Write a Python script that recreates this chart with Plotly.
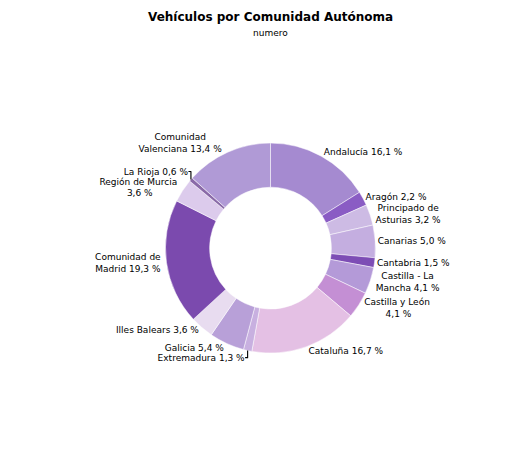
import plotly.graph_objects as go

regions = ["Andalucía", "Aragón", "Principado de<br>Asturias", "Canarias", "Cantabria",
           "Castilla - La<br>Mancha", "Castilla y León<br>", "Cataluña", "Extremadura",
           "Galicia", "Illes Balears", "Comunidad de<br>Madrid", "Región de Murcia<br>",
           "La Rioja", "Comunidad<br>Valenciana"]
shares = [16.1, 2.2, 3.2, 5.0, 1.5, 4.1, 4.1, 16.7, 1.3, 5.4, 3.6, 19.3, 3.6, 0.6, 13.4]
colors = ["#a58ad0", "#8a5cc4", "#cdbbe4", "#c4aee0", "#7d4db5", "#b49ad8", "#c48fd4",
          "#e4c0e4", "#c8b0e0", "#b8a0d8", "#e8dcf0", "#7b4aae", "#dccbec", "#8a6aa8", "#b09ad6"]

fig = go.Figure(go.Pie(
    labels=regions, values=shares, sort=False, direction="clockwise", rotation=0,
    hole=0.58, marker=dict(colors=colors, line=dict(color="#ffffff", width=0.5)),
    texttemplate="%{label} %{value:.1f} %", textposition="outside",
    textfont=dict(family="DejaVu Sans", size=9, color="#000000"),
    domain=dict(x=[0.3, 0.7], y=[0.233, 0.7]), showlegend=False,
))

fig.update_layout(
    width=525, height=450, separators=",.",
    paper_bgcolor="#ffffff", margin=dict(l=0, r=0, t=0, b=0),
    annotations=[
        dict(text="<b>Vehículos por Comunidad Autónoma</b>", x=0.5, y=452 / 450 - 0.005,
             xref="paper", yref="paper", xanchor="center", yanchor="top", showarrow=False,
             font=dict(family="DejaVu Sans", size=12, color="#000000")),
        dict(text="numero", x=0.5, y=1 - 18 / 450, xref="paper", yref="paper",
             xanchor="center", yanchor="top", showarrow=False,
             font=dict(family="DejaVu Sans", size=9, color="#000000")),
    ],
)

fig.write_html("out.html")
